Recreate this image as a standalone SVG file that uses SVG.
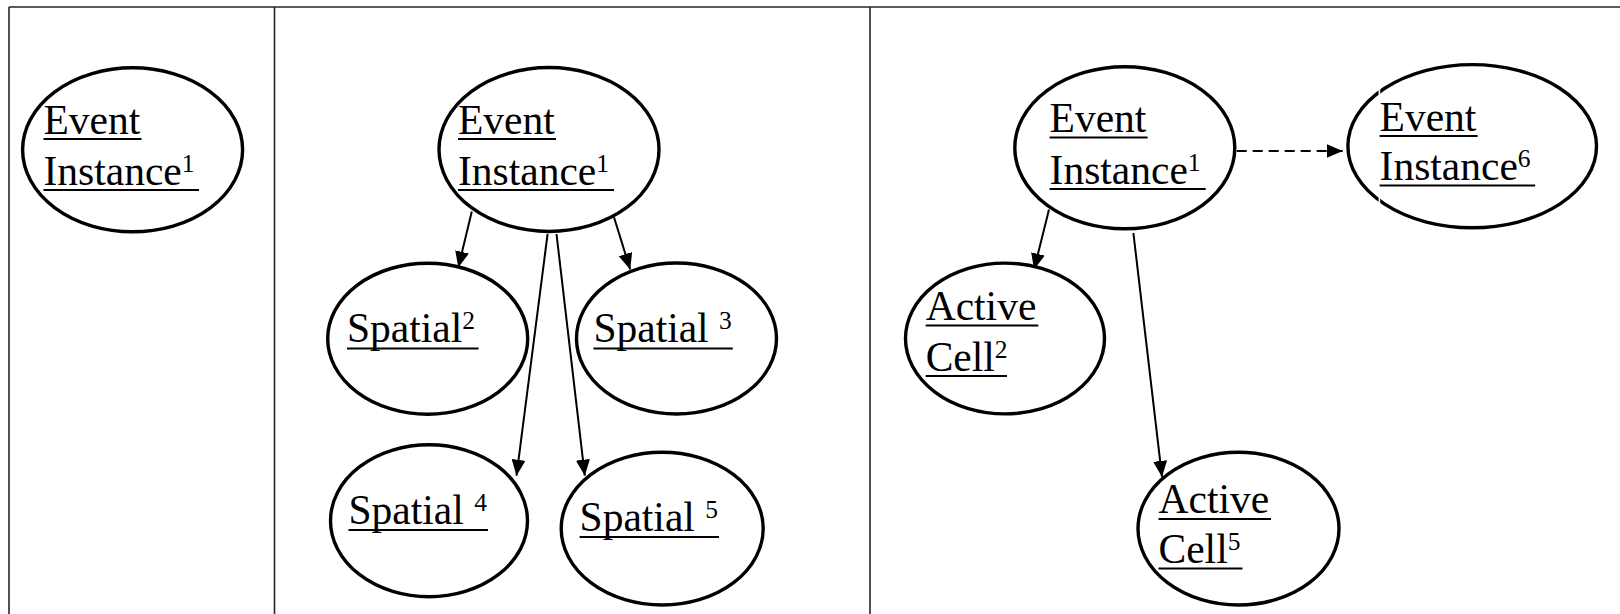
<svg xmlns="http://www.w3.org/2000/svg" width="1620" height="614" viewBox="0 0 1620 614">
  <style>
    .frame { stroke: #262626; stroke-width: 1.6; fill: none; }
    .node { fill: #ffffff; stroke: #000000; stroke-width: 3.4; }
    .lbl { font-family: "Liberation Serif", "Times New Roman", serif; font-size: 41.5px; fill: #000000; }
    .sup { font-size: 25.5px; }
    .ul { stroke: #000000; stroke-width: 1.8; }
    .edge { stroke: #000000; stroke-width: 2; fill: none; marker-end: url(#head); }
    .dash { stroke-dasharray: 10 6; }
    .notch { stroke: #ffffff; stroke-width: 1.6; }
  </style>
  <defs>
    <marker id="head" markerUnits="userSpaceOnUse" markerWidth="16" markerHeight="14" refX="16" refY="7" orient="auto">
      <path d="M0,0 L16,7 L0,14 z" fill="#000000"/>
    </marker>
  </defs>
  <rect width="1620" height="614" fill="#ffffff"/>

  <!-- table frame: three panels -->
  <g id="frame" class="frame">
    <line x1="9" y1="7" x2="1620" y2="7"/>
    <line x1="9" y1="7" x2="9" y2="614"/>
    <line x1="274.5" y1="7" x2="274.5" y2="614"/>
    <line x1="870" y1="7" x2="870" y2="614"/>
  </g>

  <!-- connectors -->
  <g id="connectors">
    <line class="edge" x1="471.8" y1="211.4" x2="458.3" y2="267.5"/>
    <line class="edge" x1="547.6" y1="234" x2="516.5" y2="475.7"/>
    <line class="edge" x1="556.5" y1="234" x2="584.8" y2="475.7"/>
    <line class="edge" x1="614" y1="217.3" x2="630.2" y2="269.4"/>
    <line class="edge" x1="1049" y1="209.5" x2="1034.1" y2="269.4"/>
    <line class="edge" x1="1133.4" y1="233" x2="1162" y2="476.9"/>
    <line class="edge dash" x1="1236.7" y1="151" x2="1342.7" y2="151"/>
  </g>

  <!-- panel 1 -->
  <g id="p1-event1">
    <ellipse class="node" cx="132.6" cy="149.8" rx="110" ry="82"/>
    <text class="lbl" x="43.5" y="133.5">Event</text>
    <text class="lbl" x="43.5" y="184.5">Instance<tspan class="sup" dy="-13">1</tspan></text>
    <line class="ul" x1="43.5" y1="139" x2="141.5" y2="139"/>
    <line class="ul" x1="43.5" y1="190" x2="199" y2="190"/>
  </g>

  <!-- panel 2 -->
  <g id="p2-event1">
    <ellipse class="node" cx="549" cy="149.5" rx="110" ry="82"/>
    <text class="lbl" x="458" y="133.5">Event</text>
    <text class="lbl" x="458" y="184.5">Instance<tspan class="sup" dy="-13">1</tspan></text>
    <line class="ul" x1="458" y1="139" x2="556" y2="139"/>
    <line class="ul" x1="458" y1="190" x2="614" y2="190"/>
  </g>

  <g id="p2-spatial2">
    <ellipse class="node" cx="427.7" cy="338.7" rx="100" ry="75.5"/>
    <text class="lbl" x="347" y="342">Spatial<tspan class="sup" dy="-13">2</tspan></text>
    <line class="ul" x1="347" y1="348.5" x2="478.6" y2="348.5"/>
  </g>

  <g id="p2-spatial3">
    <ellipse class="node" cx="676.5" cy="338.5" rx="100" ry="75.5"/>
    <text class="lbl" x="593.4" y="342">Spatial <tspan class="sup" dy="-13">3</tspan></text>
    <line class="ul" x1="593.4" y1="348.5" x2="732.8" y2="348.5"/>
  </g>

  <g id="p2-spatial4">
    <ellipse class="node" cx="429" cy="520.7" rx="98.5" ry="76"/>
    <text class="lbl" x="348.5" y="523.5">Spatial <tspan class="sup" dy="-13">4</tspan></text>
    <line class="ul" x1="348.5" y1="530" x2="488" y2="530"/>
  </g>

  <g id="p2-spatial5">
    <ellipse class="node" cx="662.2" cy="528.6" rx="101" ry="76.4"/>
    <text class="lbl" x="579.6" y="531">Spatial <tspan class="sup" dy="-13">5</tspan></text>
    <line class="ul" x1="579.6" y1="537" x2="719" y2="537"/>
  </g>

  <!-- panel 3 -->
  <g id="p3-event1">
    <ellipse class="node" cx="1124.8" cy="147.8" rx="110" ry="81"/>
    <text class="lbl" x="1049.6" y="132">Event</text>
    <text class="lbl" x="1049.6" y="183.5">Instance<tspan class="sup" dy="-13">1</tspan></text>
    <line class="ul" x1="1049.6" y1="137.5" x2="1147.6" y2="137.5"/>
    <line class="ul" x1="1049.6" y1="189" x2="1205.7" y2="189"/>
  </g>

  <g id="p3-event6">
    <ellipse class="node" cx="1472.2" cy="146.2" rx="124.3" ry="81.6"/>
    <line class="notch" x1="1379.4" y1="87" x2="1379.4" y2="97"/>
    <line class="notch" x1="1379.4" y1="195" x2="1379.4" y2="205"/>
    <text class="lbl" x="1379.6" y="130.5">Event</text>
    <text class="lbl" x="1379.6" y="180">Instance<tspan class="sup" dy="-13">6</tspan></text>
    <line class="ul" x1="1379.6" y1="136" x2="1477.6" y2="136"/>
    <line class="ul" x1="1379.6" y1="185.5" x2="1535.2" y2="185.5"/>
  </g>

  <g id="p3-cell2">
    <ellipse class="node" cx="1005" cy="338.5" rx="99.5" ry="75.4"/>
    <text class="lbl" x="925.7" y="320">Active</text>
    <text class="lbl" x="925.7" y="370.5">Cell<tspan class="sup" dy="-13">2</tspan></text>
    <line class="ul" x1="925.7" y1="325.5" x2="1038.3" y2="325.5"/>
    <line class="ul" x1="925.7" y1="376" x2="1007" y2="376"/>
  </g>

  <g id="p3-cell5">
    <ellipse class="node" cx="1238.5" cy="528.6" rx="100.5" ry="76.4"/>
    <text class="lbl" x="1158.5" y="513.3">Active</text>
    <text class="lbl" x="1158.5" y="563">Cell<tspan class="sup" dy="-13">5</tspan></text>
    <line class="ul" x1="1158.5" y1="519" x2="1271" y2="519"/>
    <line class="ul" x1="1158.5" y1="568.5" x2="1242.5" y2="568.5"/>
  </g>
</svg>
